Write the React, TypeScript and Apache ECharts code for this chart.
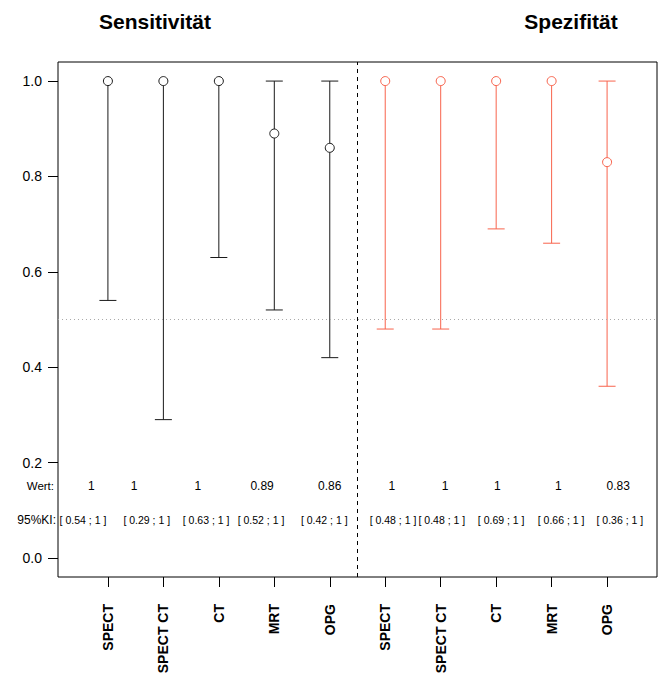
import React, { useEffect, useRef } from "react";
import * as echarts from "echarts";

const categories = ["SPECT", "SPECT CT", "CT", "MRT", "OPG", "SPECT", "SPECT CT", "CT", "MRT", "OPG"];
const sensValues = [1, 1, 1, 0.89, 0.86];
const sensLower = [0.54, 0.29, 0.63, 0.52, 0.42];
const sensUpper = [1, 1, 1, 1, 1];
const specValues = [1, 1, 1, 1, 0.83];
const specLower = [0.48, 0.48, 0.69, 0.66, 0.36];
const specUpper = [1, 1, 1, 1, 1];
// annotation anchor positions (x in axis units) for the two text rows
const valueTextX = [0.7, 1.47, 2.62, 3.78, 5.0, 6.12, 7.08, 8.02, 9.12, 10.2];
const ciTextX = [0.55, 1.7, 2.77, 3.76, 4.9, 6.14, 7.02, 8.09, 9.17, 10.23];
const yTicks = [0, 0.2, 0.4, 0.6, 0.8, 1.0];
const xTicks = [1, 2, 3, 4, 5, 6, 7, 8, 9, 10];
const titles = ["Sensitivität", "Spezifität"];
const rowLabels = ["Wert:", "95%KI:"];
const rowY = [0.15, 0.08];
const refY = 0.5;
const splitX = 5.5;

const BLACK = "#1a1a1a";
const RED = "#F8634C";
const FONT = "'Liberation Sans', Arial, Helvetica, sans-serif";

function fmt(v: number): string {
  return String(Number(v.toFixed(2)));
}

export default function App() {
  const ref = useRef<HTMLDivElement>(null);
  useEffect(() => {
    if (!ref.current) return;
    const chart = echarts.init(ref.current, null, { renderer: "svg" });

    const sensData = sensValues.map((v, i) => [i + 1, v, sensLower[i], sensUpper[i]]);
    const specData = specValues.map((v, i) => [i + 6, v, specLower[i], specUpper[i]]);
    const allValues = [...sensValues, ...specValues];
    const allLower = [...sensLower, ...specLower];
    const allUpper = [...sensUpper, ...specUpper];
    const textData = allValues.map((v, i) => [valueTextX[i], ciTextX[i], v, allLower[i], allUpper[i]]);

    const CAP = 8.5;
    const R = 4.5;
    const makeErr = (color: string) => (params: any, api: any) => {
      const x = api.value(0);
      const est = api.value(1);
      const lo = api.value(2);
      const hi = api.value(3);
      const pe = api.coord([x, est]);
      const pl = api.coord([x, lo]);
      const ph = api.coord([x, hi]);
      const children: any[] = [];
      const st = { stroke: color, lineWidth: 1 };
      if (lo !== est) {
        children.push({ type: "line", shape: { x1: pe[0], y1: pe[1] + R, x2: pl[0], y2: pl[1] }, style: st });
        children.push({ type: "line", shape: { x1: pl[0] - CAP, y1: pl[1], x2: pl[0] + CAP, y2: pl[1] }, style: st });
      }
      if (hi !== est) {
        children.push({ type: "line", shape: { x1: pe[0], y1: pe[1] - R, x2: ph[0], y2: ph[1] }, style: st });
        children.push({ type: "line", shape: { x1: ph[0] - CAP, y1: ph[1], x2: ph[0] + CAP, y2: ph[1] }, style: st });
      }
      children.push({ type: "circle", shape: { cx: pe[0], cy: pe[1], r: R }, style: { fill: "none", stroke: color, lineWidth: 1 } });
      return { type: "group", children };
    };

    const makeText = (params: any, api: any) => {
      const xv = api.value(0);
      const xc = api.value(1);
      const est = api.value(2);
      const lo = api.value(3);
      const hi = api.value(4);
      const p1 = api.coord([xv, rowY[0]]);
      const p2 = api.coord([xc, rowY[1]]);
      const children: any[] = [
        { type: "text", x: p1[0], y: p1[1], style: { text: fmt(est), fill: "#000", font: `12px ${FONT}`, align: "center", verticalAlign: "middle" } },
        { type: "text", x: p2[0], y: p2[1], style: { text: `[ ${fmt(lo)} ; ${fmt(hi)} ]`, fill: "#000", font: `10.5px ${FONT}`, align: "center", verticalAlign: "middle" } },
      ];
      if (params.dataIndex === 0) {
        const l1 = api.coord([0.1, rowY[0]]);
        const l2 = api.coord([0.1, rowY[1]]);
        children.push({ type: "text", x: l1[0] - 4, y: l1[1], style: { text: rowLabels[0], fill: "#000", font: `11.5px ${FONT}`, align: "right", verticalAlign: "middle" } });
        children.push({ type: "text", x: l2[0] - 2, y: l2[1], style: { text: rowLabels[1], fill: "#000", font: `12px ${FONT}`, align: "right", verticalAlign: "middle" } });
      }
      return { type: "group", children };
    };

    chart.setOption({
      animation: false,
      backgroundColor: "#fff",
      textStyle: { fontFamily: FONT },
      graphic: [
        { type: "text", x: 155, y: 21, style: { text: titles[0], font: `bold 21px ${FONT}`, fill: "#000", align: "center", verticalAlign: "middle" } },
        { type: "text", x: 571, y: 21, style: { text: titles[1], font: `bold 21px ${FONT}`, fill: "#000", align: "center", verticalAlign: "middle" } },
      ],
      grid: { left: 58, right: 7, top: 62, bottom: 101, show: true, borderColor: "#000", borderWidth: 1, backgroundColor: "transparent" },
      xAxis: {
        type: "value",
        min: 0.1,
        max: 10.9,
        splitLine: { show: false },
        axisLine: { show: false, onZero: false },
        axisTick: { show: true, customValues: xTicks, length: 10, lineStyle: { color: "#000" } },
        axisLabel: {
          customValues: xTicks,
          rotate: 90,
          margin: 27,
          fontSize: 14,
          fontWeight: "bold",
          color: "#000",
          fontFamily: FONT,
          formatter: (v: number) => categories[Math.round(v) - 1] ?? "",
        },
      },
      yAxis: {
        type: "value",
        min: -0.04,
        max: 1.04,
        splitLine: { show: false },
        axisLine: { show: false, onZero: false },
        axisTick: { show: true, customValues: yTicks, length: 10, lineStyle: { color: "#000" } },
        axisLabel: {
          customValues: yTicks,
          margin: 16,
          fontSize: 14,
          color: "#000",
          fontFamily: FONT,
          formatter: (v: number) => v.toFixed(1),
        },
      },
      series: [
        {
          type: "custom",
          name: "Sensitivität",
          data: sensData,
          renderItem: makeErr(BLACK),
          markLine: {
            silent: true,
            symbol: "none",
            label: { show: false },
            data: [
              { yAxis: refY, lineStyle: { color: "#aaa", type: [1, 3], width: 1 } },
              { xAxis: splitX, lineStyle: { color: "#000", type: [4, 4], width: 1 } },
            ],
          },
        },
        { type: "custom", name: "Spezifität", data: specData, renderItem: makeErr(RED) },
        { type: "custom", name: "text", data: textData, renderItem: makeText },
      ],
    });
    return () => chart.dispose();
  }, []);
  return <div ref={ref} style={{ position: "fixed", left: 0, top: 0, width: 664, height: 678 }} />;
}
